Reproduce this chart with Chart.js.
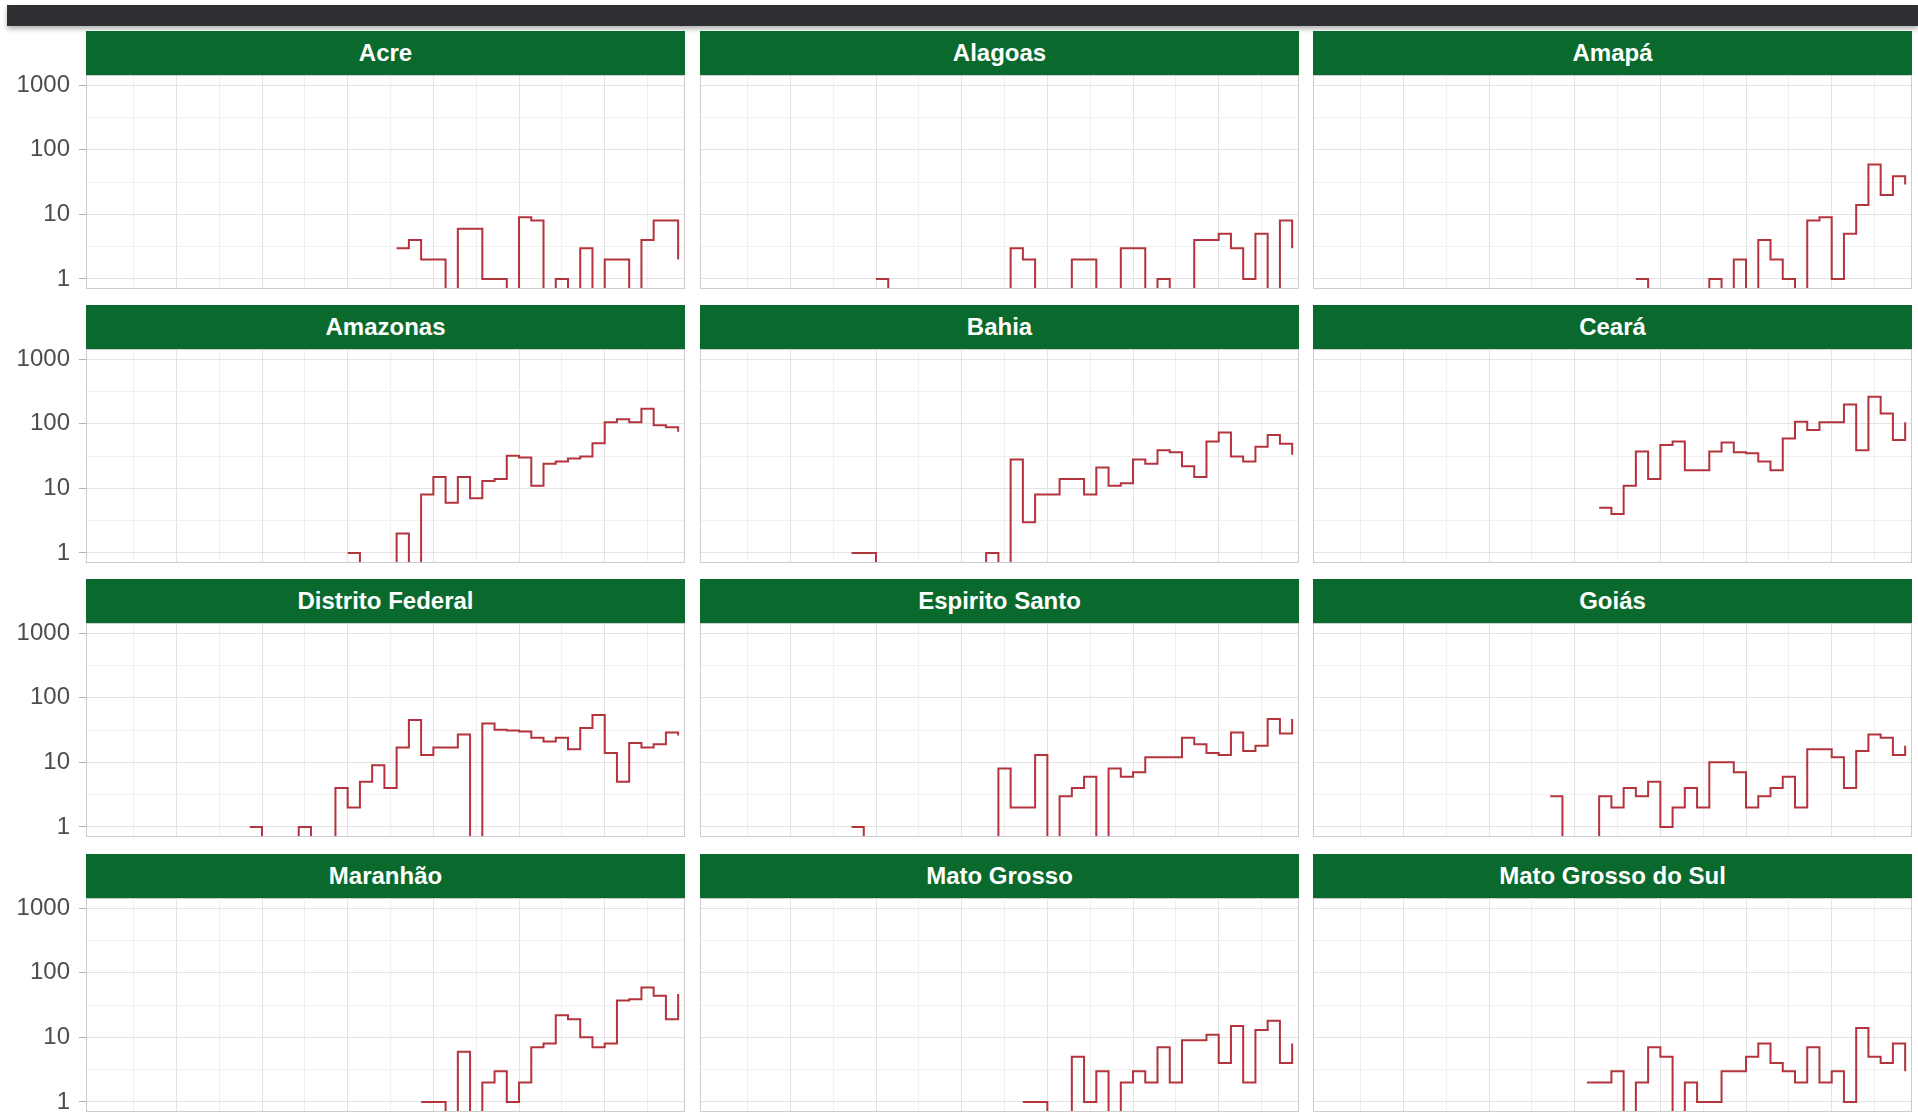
<!DOCTYPE html>
<html lang="pt-BR">
<head>
    <meta charset="UTF-8">
    <title>Casos novos por estado - escala log</title>
    <script src="https://cdn.jsdelivr.net/npm/chart.js"></script>
    <style>
        body { margin: 0; width: 1918px; height: 1118px; overflow: hidden; background: #fff; position: relative;
               font-family: "Liberation Sans", Arial, sans-serif; }
        .topbar { position: absolute; left: 7px; top: 5px; right: 0; height: 21px; background: #2d2f33;
                  box-shadow: 0 3px 5px rgba(0, 0, 0, 0.3); }
        .strip { position: absolute; height: 44px; line-height: 44px; background: #0a6a2d; color: #fff;
                 font-weight: bold; font-size: 24px; text-align: center; }
        canvas { position: absolute; display: block; }
    </style>
</head>
<body>
    <div class="topbar"></div>
    <div id="facets"></div>

    <script>
        // dia 0 = 28/02/2020
        const dates = ['28/02','29/02','01/03','02/03','03/03','04/03','05/03','06/03','07/03','08/03',
                       '09/03','10/03','11/03','12/03','13/03','14/03','15/03','16/03','17/03','18/03',
                       '19/03','20/03','21/03','22/03','23/03','24/03','25/03','26/03','27/03','28/03',
                       '29/03','30/03','31/03','01/04','02/04','03/04','04/04','05/04','06/04','07/04',
                       '08/04','09/04'];

        const states = ['Acre', 'Alagoas', 'Amapá', 'Amazonas', 'Bahia', 'Ceará',
                        'Distrito Federal', 'Espirito Santo', 'Goiás', 'Maranhão', 'Mato Grosso', 'Mato Grosso do Sul'];

        // primeiro dia com registro em cada estado (índice em dates)
        const firstDay = [18, 7, 19, 14, 5, 16, 6, 5, 12, 20, 19, 15];

        const acre     = [3,4,2,2,0,6,6,1,1,0,9,8,0,1,0,3,0,2,2,0,4,8,8,2];
        const alagoas  = [1,0,0,0,0,0,0,0,0,0,0,3,2,0,0,0,2,2,0,0,3,3,0,1,0,0,4,4,5,3,1,5,0,8,3];
        const amapa    = [1,0,0,0,0,0,1,0,2,0,4,2,1,0,8,9,1,5,14,59,20,39,29];
        const amazonas = [1,0,0,0,2,0,8,15,6,15,7,13,14,32,30,11,24,26,29,31,50,105,117,105,170,95,88,75];
        const bahia    = [1,1,0,0,0,0,0,0,0,0,0,1,0,28,3,8,8,14,14,8,21,11,12,28,24,39,36,22,15,53,73,31,26,44,67,49,33];
        const ceara    = [5,4,11,37,14,47,53,19,19,37,51,36,35,26,19,59,107,80,105,105,198,39,260,144,56,105];
        const df       = [1,0,0,0,1,0,0,4,2,5,9,4,17,45,13,17,17,27,0,40,32,31,30,24,21,24,16,34,54,14,5,20,17,19,29,26];
        const es       = [1,0,0,0,0,0,0,0,0,0,0,0,8,2,2,13,0,3,4,6,0,8,6,7,12,12,12,24,19,14,13,29,15,18,47,28,47];
        const goias    = [3,0,0,0,3,2,4,3,5,1,2,4,2,10,10,7,2,3,4,6,2,16,16,12,4,15,27,24,13,18];
        const maranhao = [1,1,0,6,0,2,3,1,2,7,8,22,19,10,7,8,37,39,59,44,19,47];
        const mt       = [1,1,0,0,5,1,3,0,2,3,2,7,2,9,9,11,4,15,2,13,18,4,8];
        const ms       = [2,2,3,0,2,7,5,0,2,1,1,3,3,5,8,4,3,2,7,2,3,1,14,5,4,8,3];

        const series = [acre, alagoas, amapa, amazonas, bahia, ceara, df, es, goias, maranhao, mt, ms];

        const yMajor = [1, 10, 100, 1000];
        const yMinor = [3.162, 31.62, 316.2];
        const xMajor = [0, 7, 14, 21, 28, 35];
        const xMinor = [-3.5, 3.5, 10.5, 17.5, 24.5, 31.5, 38.5];

        const Y_MIN = 0.71, Y_MAX = 1430;
        const X_MIN = -7.38, X_MAX = 41.56;
        // zero no eixo log vai abaixo do piso (como o -Inf do ggplot)
        const ZERO_FLOOR = 0.1;

        const LINE_COLOR = '#b3343c';
        const GRID_MAJOR = '#e3e3e3';
        const GRID_MINOR = '#f0f0f0';

        // layout das facetas
        const colLeft = [86, 700, 1313];
        const colWidth = 599;
        const axisWidth = 86;
        const stripHeight = 44;
        const plotHeight = 214;
        const labelRoom = 14;
        const rowTop = r => Math.round(30.5 + r * 274.4);

        Chart.defaults.font.family = '"Liberation Sans", Arial, sans-serif';

        const panelBorder = {
            id: 'panelBorder',
            afterDatasetsDraw(chart) {
                const { ctx, chartArea: a } = chart;
                ctx.save();
                ctx.strokeStyle = '#cdcdcd';
                ctx.lineWidth = 1;
                ctx.strokeRect(a.left + 0.5, a.top + 0.5, a.width - 1, a.height - 1);
                ctx.restore();
            }
        };

        const toPoints = (start, values) =>
            values.map((v, i) => ({ x: start + i, y: v === 0 ? ZERO_FLOOR : v }));

        const facets = document.getElementById('facets');

        states.forEach((name, i) => {
            const row = Math.floor(i / 3);
            const col = i % 3;
            const top = rowTop(row);
            const first = col === 0;

            const canvas = document.createElement('canvas');
            canvas.width = colWidth + (first ? axisWidth : 0);
            canvas.height = plotHeight + 2 * labelRoom;
            canvas.style.left = (first ? colLeft[col] - axisWidth : colLeft[col]) + 'px';
            canvas.style.top = (top + stripHeight - labelRoom) + 'px';
            facets.appendChild(canvas);

            const strip = document.createElement('div');
            strip.className = 'strip';
            strip.style.left = colLeft[col] + 'px';
            strip.style.top = top + 'px';
            strip.style.width = colWidth + 'px';
            strip.textContent = name;
            facets.appendChild(strip);

            new Chart(canvas, {
                type: 'line',
                data: {
                    datasets: [{
                        label: name,
                        data: toPoints(firstDay[i], series[i]),
                        borderColor: LINE_COLOR,
                        borderWidth: 2,
                        pointRadius: 0,
                        stepped: true,
                        fill: false,
                        clip: { left: 1, top: 1, right: 1, bottom: 0 }
                    }]
                },
                options: {
                    responsive: false,
                    animation: false,
                    layout: { padding: { top: labelRoom, bottom: labelRoom, left: 0, right: 0 } },
                    plugins: {
                        legend: { display: false },
                        tooltip: {
                            callbacks: { title: items => dates[items[0].parsed.x] }
                        }
                    },
                    scales: {
                        x: {
                            type: 'linear',
                            min: X_MIN,
                            max: X_MAX,
                            afterBuildTicks: s => { s.ticks = [...xMinor, ...xMajor].sort((a, b) => a - b).map(v => ({ value: v })); },
                            afterFit: s => { s.height = 0; },
                            ticks: { display: false },
                            grid: {
                                drawTicks: false,
                                color: c => xMajor.includes(c.tick.value) ? GRID_MAJOR : GRID_MINOR
                            },
                            border: { display: false }
                        },
                        y: {
                            type: 'logarithmic',
                            min: Y_MIN,
                            max: Y_MAX,
                            afterBuildTicks: s => { s.ticks = [...yMajor, ...yMinor].sort((a, b) => a - b).map(v => ({ value: v })); },
                            afterFit: s => {
                                s.width = first ? axisWidth : 0;
                                s.paddingTop = 0;
                                s.paddingBottom = 0;
                            },
                            ticks: {
                                display: first,
                                padding: 9,
                                color: '#4d4d4d',
                                font: { size: 24 },
                                callback: v => yMajor.includes(v) ? String(v) : ''
                            },
                            grid: {
                                drawTicks: first,
                                tickLength: 7,
                                tickColor: c => yMajor.includes(c.tick.value) ? '#b3b3b3' : 'rgba(0,0,0,0)',
                                color: c => yMajor.includes(c.tick.value) ? GRID_MAJOR : GRID_MINOR
                            },
                            border: { display: false }
                        }
                    }
                },
                plugins: [panelBorder]
            });
        });
    </script>
</body>
</html>
